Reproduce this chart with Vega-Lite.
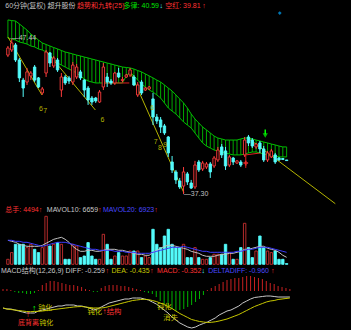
{
"$schema": "https://vega.github.io/schema/vega-lite/v6.json",
"background": "#000000",
"padding": 0,
"spacing": 0,
"bounds": "flush",
"config": {"view": {"stroke": null}, "text": {"font": "Liberation Sans, Noto Sans CJK SC", "fontSize": 7, "baseline": "middle", "align": "left"}},
"datasets": {
"k": [
{"i":0,"o":46.36,"h":46.95,"l":46.23,"c":46.82,"v":5000,"m10":24000,"m20":24000,"bt":48.65,"bb":47.47,"hs":2,"df":-17,"de":-17},
{"i":1,"o":46.69,"h":47.44,"l":46.56,"c":47.15,"v":11700,"m10":23000,"m20":24000,"bt":48.61,"bb":47.41,"hs":2,"df":-18,"de":-18},
{"i":2,"o":47.02,"h":47.15,"l":45.91,"c":46.04,"v":20000,"m10":22000,"m20":23000,"bt":48.58,"bb":47.34,"hs":1,"df":-18,"de":-18.5},
{"i":3,"o":46.04,"h":46.17,"l":44.60,"c":44.87,"v":20000,"m10":20000,"m20":23000,"bt":48.39,"bb":47.21,"hs":-1,"df":-19,"de":-19},
{"i":4,"o":44.73,"h":44.87,"l":43.63,"c":44.21,"v":20000,"m10":19000,"m20":22000,"bt":48.19,"bb":47.15,"hs":-2,"df":-20,"de":-19.5},
{"i":5,"o":44.60,"h":45.52,"l":44.41,"c":45.26,"v":16700,"m10":18000,"m20":22000,"bt":47.99,"bb":47.08,"hs":-2,"df":-21,"de":-20},
{"i":6,"o":45.00,"h":45.32,"l":44.73,"c":45.19,"v":20000,"m10":18000,"m20":21000,"bt":47.73,"bb":46.95,"hs":-3,"df":-22,"de":-20.5},
{"i":7,"o":45.58,"h":45.71,"l":44.60,"c":44.73,"v":15000,"m10":18000,"m20":20000,"bt":47.54,"bb":46.89,"hs":-3,"df":-22,"de":-20.7},
{"i":8,"o":44.87,"h":44.93,"l":44.21,"c":44.28,"v":11700,"m10":18000,"m20":19000,"bt":47.34,"bb":46.76,"hs":-2,"df":-22,"de":-20.5},
{"i":9,"o":43.89,"h":44.28,"l":43.76,"c":44.15,"v":16700,"m10":19000,"m20":18000,"bt":47.15,"bb":46.69,"hs":1,"df":-20,"de":-20.3},
{"i":10,"o":45.19,"h":46.69,"l":44.93,"c":46.56,"v":48000,"m10":21000,"m20":19000,"bt":47.05,"bb":46.56,"hs":6,"df":-19,"de":-20},
{"i":11,"o":46.50,"h":46.56,"l":45.58,"c":45.84,"v":18300,"m10":23000,"m20":20000,"bt":46.95,"bb":46.36,"hs":8,"df":-18,"de":-19.5},
{"i":12,"o":45.65,"h":46.30,"l":45.52,"c":46.17,"v":20000,"m10":25000,"m20":21000,"bt":46.85,"bb":46.10,"hs":10,"df":-17,"de":-19},
{"i":13,"o":46.04,"h":46.17,"l":45.26,"c":45.39,"v":21700,"m10":26000,"m20":22000,"bt":46.76,"bb":45.84,"hs":10,"df":-16,"de":-18.5},
{"i":14,"o":44.08,"h":45.19,"l":43.63,"c":44.93,"v":20000,"m10":27000,"m20":22000,"bt":46.66,"bb":45.71,"hs":9,"df":-15,"de":-18},
{"i":15,"o":44.93,"h":45.06,"l":44.41,"c":44.54,"v":5000,"m10":25000,"m20":22000,"bt":46.56,"bb":45.58,"hs":8,"df":-15,"de":-17.5},
{"i":16,"o":44.87,"h":45.00,"l":44.47,"c":44.67,"v":5000,"m10":22000,"m20":21000,"bt":46.50,"bb":45.45,"hs":7,"df":-14,"de":-17},
{"i":17,"o":44.60,"h":45.91,"l":44.41,"c":45.71,"v":20000,"m10":18000,"m20":20000,"bt":46.43,"bb":45.32,"hs":6,"df":-14,"de":-16.5},
{"i":18,"o":44.93,"h":45.78,"l":44.80,"c":45.58,"v":18300,"m10":15000,"m20":19000,"bt":46.36,"bb":45.19,"hs":6,"df":-14,"de":-16},
{"i":19,"o":45.26,"h":45.39,"l":44.73,"c":44.87,"v":6700,"m10":13000,"m20":18000,"bt":46.30,"bb":45.00,"hs":5,"df":-15,"de":-15.7},
{"i":20,"o":44.73,"h":44.80,"l":43.63,"c":44.08,"v":8300,"m10":13000,"m20":17000,"bt":46.23,"bb":44.80,"hs":4,"df":-15,"de":-15.5},
{"i":21,"o":44.21,"h":44.34,"l":43.11,"c":43.43,"v":21700,"m10":14000,"m20":16000,"bt":46.17,"bb":44.67,"hs":2,"df":-16,"de":-16},
{"i":22,"o":43.56,"h":43.69,"l":43.11,"c":43.30,"v":8300,"m10":14000,"m20":15000,"bt":46.10,"bb":44.60,"hs":1,"df":-17,"de":-16.5},
{"i":23,"o":43.56,"h":43.63,"l":43.24,"c":43.37,"v":5000,"m10":13000,"m20":15000,"bt":46.04,"bb":44.54,"hs":-1,"df":-19,"de":-17},
{"i":24,"o":43.30,"h":44.08,"l":43.24,"c":43.95,"v":5000,"m10":13000,"m20":14000,"bt":45.97,"bb":44.54,"hs":-1,"df":-18,"de":-17},
{"i":25,"o":44.28,"h":45.84,"l":44.08,"c":45.58,"v":30000,"m10":14000,"m20":14000,"bt":45.91,"bb":44.54,"hs":3,"df":-16,"de":-17},
{"i":26,"o":44.93,"h":45.19,"l":44.28,"c":44.60,"v":20000,"m10":15000,"m20":14000,"bt":45.84,"bb":44.54,"hs":5,"df":-14,"de":-16.5},
{"i":27,"o":44.67,"h":44.80,"l":44.41,"c":44.54,"v":5000,"m10":15000,"m20":14000,"bt":45.78,"bb":44.54,"hs":6,"df":-12,"de":-15.5},
{"i":28,"o":44.54,"h":45.26,"l":44.41,"c":45.19,"v":8300,"m10":15000,"m20":13000,"bt":45.71,"bb":44.54,"hs":6,"df":-11,"de":-14.5},
{"i":29,"o":45.19,"h":45.52,"l":44.87,"c":44.93,"v":11700,"m10":14000,"m20":13000,"bt":45.65,"bb":44.54,"hs":6,"df":-10,"de":-13.5},
{"i":30,"o":44.70,"h":44.93,"l":44.60,"c":44.77,"v":8300,"m10":14000,"m20":13000,"bt":45.58,"bb":44.54,"hs":5,"df":-9,"de":-12.5},
{"i":31,"o":44.93,"h":45.13,"l":44.87,"c":45.06,"v":8300,"m10":13000,"m20":12000,"bt":45.55,"bb":45.00,"hs":5,"df":-8,"de":-11.5},
{"i":32,"o":45.06,"h":45.52,"l":44.93,"c":45.39,"v":13300,"m10":12000,"m20":12000,"bt":45.52,"bb":45.26,"hs":4,"df":-8,"de":-10.5},
{"i":33,"o":44.93,"h":45.06,"l":44.34,"c":44.41,"v":13300,"m10":11000,"m20":12000,"bt":45.45,"bb":45.00,"hs":3,"df":-7,"de":-9.5},
{"i":34,"o":43.76,"h":44.60,"l":43.63,"c":44.41,"v":13300,"m10":10000,"m20":11000,"bt":45.35,"bb":44.73,"hs":2,"df":-7,"de":-9},
{"i":35,"o":44.60,"h":44.73,"l":43.76,"c":43.89,"v":6700,"m10":10000,"m20":11000,"bt":45.26,"bb":44.47,"hs":1,"df":-7,"de":-8.5},
{"i":36,"o":44.08,"h":44.28,"l":44.02,"c":44.21,"v":8300,"m10":9000,"m20":11000,"bt":45.13,"bb":44.28,"hs":-1,"df":-8,"de":-8.3},
{"i":37,"o":44.15,"h":44.34,"l":44.08,"c":44.28,"v":6700,"m10":9000,"m20":11000,"bt":45.00,"bb":44.08,"hs":-2,"df":-9,"de":-8.6},
{"i":38,"o":43.50,"h":43.89,"l":41.80,"c":42.32,"v":35000,"m10":12000,"m20":12000,"bt":44.87,"bb":43.95,"hs":-3,"df":-11,"de":-9.5},
{"i":39,"o":42.32,"h":42.52,"l":41.87,"c":42.06,"v":20000,"m10":14000,"m20":13000,"bt":44.73,"bb":43.76,"hs":-6,"df":-13,"de":-10.5},
{"i":40,"o":42.13,"h":42.32,"l":41.28,"c":41.67,"v":16700,"m10":16000,"m20":14000,"bt":44.60,"bb":43.56,"hs":-10,"df":-16,"de":-12},
{"i":41,"o":41.74,"h":41.87,"l":41.15,"c":41.28,"v":28300,"m10":18000,"m20":15000,"bt":44.41,"bb":43.24,"hs":-13,"df":-19,"de":-13.5},
{"i":42,"o":41.02,"h":41.08,"l":39.72,"c":39.98,"v":35000,"m10":19000,"m20":16000,"bt":44.21,"bb":42.91,"hs":-16,"df":-22,"de":-15.5},
{"i":43,"o":39.39,"h":39.78,"l":38.67,"c":38.87,"v":20000,"m10":19000,"m20":17000,"bt":44.02,"bb":42.71,"hs":-18,"df":-26,"de":-17.5},
{"i":44,"o":38.74,"h":38.87,"l":37.96,"c":38.22,"v":16700,"m10":18000,"m20":17000,"bt":43.76,"bb":42.52,"hs":-20,"df":-29,"de":-20},
{"i":45,"o":38.15,"h":38.35,"l":37.63,"c":37.76,"v":16700,"m10":17000,"m20":17000,"bt":43.50,"bb":42.26,"hs":-19,"df":-32,"de":-22.5},
{"i":46,"o":37.82,"h":39.06,"l":37.30,"c":38.74,"v":20000,"m10":16000,"m20":18000,"bt":43.24,"bb":42.00,"hs":-18,"df":-34,"de":-24.5},
{"i":47,"o":38.61,"h":38.74,"l":37.89,"c":38.09,"v":6700,"m10":15000,"m20":17000,"bt":42.91,"bb":41.80,"hs":-16,"df":-36,"de":-26.5},
{"i":48,"o":38.02,"h":38.22,"l":37.63,"c":37.69,"v":6700,"m10":13000,"m20":16000,"bt":42.52,"bb":41.61,"hs":-14,"df":-37,"de":-28.5},
{"i":49,"o":37.76,"h":39.46,"l":37.63,"c":39.19,"v":16700,"m10":12000,"m20":15000,"bt":42.19,"bb":41.28,"hs":-11,"df":-36,"de":-29.5},
{"i":50,"o":39.39,"h":39.52,"l":38.74,"c":38.87,"v":6700,"m10":11000,"m20":14000,"bt":41.93,"bb":40.95,"hs":-8,"df":-34,"de":-30.5},
{"i":51,"o":38.93,"h":39.46,"l":38.80,"c":39.32,"v":5000,"m10":9000,"m20":13000,"bt":41.67,"bb":40.63,"hs":-4,"df":-32.5,"de":-31},
{"i":52,"o":39.06,"h":39.39,"l":38.93,"c":39.26,"v":5000,"m10":8000,"m20":13000,"bt":41.48,"bb":40.43,"hs":1,"df":-31,"de":-31.5},
{"i":53,"o":39.26,"h":39.39,"l":38.35,"c":38.74,"v":6700,"m10":8000,"m20":12000,"bt":41.28,"bb":40.30,"hs":3,"df":-29,"de":-31.3},
{"i":54,"o":39.13,"h":39.78,"l":39.00,"c":39.65,"v":10000,"m10":8000,"m20":12000,"bt":41.08,"bb":40.17,"hs":5,"df":-27,"de":-30.8},
{"i":55,"o":39.52,"h":40.37,"l":39.39,"c":40.17,"v":10000,"m10":9000,"m20":12000,"bt":40.95,"bb":40.11,"hs":7,"df":-24,"de":-30},
{"i":56,"o":40.37,"h":40.56,"l":39.65,"c":39.85,"v":10000,"m10":10000,"m20":12000,"bt":40.89,"bb":40.04,"hs":9,"df":-22,"de":-29},
{"i":57,"o":40.11,"h":40.37,"l":38.87,"c":39.13,"v":20000,"m10":10000,"m20":12000,"bt":40.82,"bb":39.98,"hs":11,"df":-20,"de":-28},
{"i":58,"o":39.19,"h":39.85,"l":39.06,"c":39.72,"v":11700,"m10":11000,"m20":12000,"bt":40.82,"bb":39.91,"hs":12,"df":-19,"de":-26.5},
{"i":59,"o":39.65,"h":39.72,"l":39.19,"c":39.39,"v":5000,"m10":11000,"m20":12000,"bt":40.82,"bb":39.85,"hs":13,"df":-17,"de":-25},
{"i":60,"o":39.32,"h":39.52,"l":39.26,"c":39.46,"v":5000,"m10":12000,"m20":13000,"bt":40.82,"bb":39.85,"hs":13,"df":-15,"de":-23.5},
{"i":61,"o":39.39,"h":39.52,"l":39.06,"c":39.19,"v":16700,"m10":13000,"m20":13000,"bt":40.89,"bb":39.85,"hs":14,"df":-12,"de":-21.5},
{"i":62,"o":39.85,"h":41.02,"l":39.72,"c":40.82,"v":41000,"m10":15000,"m20":14000,"bt":40.95,"bb":39.91,"hs":15,"df":-10,"de":-19.5},
{"i":63,"o":41.02,"h":41.15,"l":40.43,"c":40.63,"v":16700,"m10":15000,"m20":15000,"bt":40.95,"bb":39.98,"hs":15,"df":-8,"de":-17.5},
{"i":64,"o":40.82,"h":40.95,"l":40.30,"c":40.43,"v":6700,"m10":16000,"m20":15000,"bt":40.89,"bb":40.04,"hs":14,"df":-6.5,"de":-15.5},
{"i":65,"o":40.37,"h":40.63,"l":40.24,"c":40.56,"v":13300,"m10":17000,"m20":16000,"bt":40.82,"bb":40.04,"hs":13,"df":-6,"de":-14},
{"i":66,"o":40.63,"h":40.76,"l":39.98,"c":40.24,"v":28300,"m10":18000,"m20":17000,"bt":40.76,"bb":39.98,"hs":12,"df":-5.5,"de":-12.5},
{"i":67,"o":40.24,"h":40.43,"l":39.39,"c":39.52,"v":16700,"m10":18000,"m20":17000,"bt":40.69,"bb":39.91,"hs":10,"df":-5,"de":-11},
{"i":68,"o":39.52,"h":40.11,"l":39.39,"c":39.98,"v":13300,"m10":16000,"m20":17000,"bt":40.63,"bb":39.85,"hs":8,"df":-5,"de":-10},
{"i":69,"o":39.72,"h":40.24,"l":39.65,"c":40.11,"v":11700,"m10":15000,"m20":16000,"bt":40.56,"bb":39.78,"hs":7,"df":-5.5,"de":-9.5},
{"i":70,"o":39.85,"h":39.98,"l":39.26,"c":39.39,"v":13300,"m10":14000,"m20":15000,"bt":40.50,"bb":39.78,"hs":5,"df":-6,"de":-8.5},
{"i":71,"o":39.65,"h":39.72,"l":39.46,"c":39.52,"v":5000,"m10":12000,"m20":14000,"bt":40.43,"bb":39.72,"hs":4,"df":-6,"de":-8},
{"i":72,"o":39.62,"h":39.65,"l":39.52,"c":39.55,"v":5000,"m10":9000,"m20":13000,"bt":40.37,"bb":39.72,"hs":3,"df":-6,"de":-7.5},
{"i":73,"o":39.52,"h":39.52,"l":39.48,"c":39.48,"v":700,"m10":7000,"m20":12000,"bt":40.37,"bb":39.72,"hs":2,"df":-6,"de":-7}
],
"tl": [
{"g":"L1","i":0,"p":47.54},{"g":"L1","i":8.9,"p":43.76},
{"g":"L2","i":10.2,"p":46.56},{"g":"L2","i":22.9,"p":42.78},
{"g":"L3","i":31.8,"p":45.39},{"g":"L3","i":46.1,"p":37.37},
{"g":"L4","i":62.85,"p":40.95},{"g":"L4","i":85.75,"p":36.67}
],
"rl": [
{"g":"R1","n":1,"i":24.7,"p":44.54},{"g":"R1","n":2,"i":31.8,"p":44.54},
{"g":"R2","n":1,"i":62.3,"p":39.00},{"g":"R2","n":2,"i":62.3,"p":39.85},{"g":"R2","n":3,"i":66.2,"p":39.98}
]
},
"vconcat": [
{
"width": 351, "height": 204,
"data": {"name": "k"},
"encoding": {"x": {"field": "i", "type": "quantitative", "scale": {"domain": [-0.763, 88.55], "nice": false, "zero": false}, "axis": null}},
"layer": [
{"data": {"values": [{"g": 46.10}, {"g": 42.91}, {"g": 39.72}]},
 "mark": {"type": "rule", "color": "#7a0000", "strokeDash": [1, 2], "strokeWidth": 1},
 "encoding": {"x": {"datum": -0.763}, "x2": {"datum": 88.55}, "y": {"field": "g", "type": "quantitative", "scale": {"domain": [36.65, 49.95], "nice": false, "zero": false}, "axis": null}}},
{"data": {"values": [{}]}, "mark": {"type": "rule", "color": "#b00000", "strokeWidth": 1},
 "encoding": {"x": {"datum": -0.55}}},
{"data": {"values": [{}]}, "mark": {"type": "rule", "color": "#c00000", "strokeWidth": 1},
 "encoding": {"y": {"datum": 36.68, "scale": {"domain": [36.65, 49.95], "nice": false, "zero": false}, "axis": null}}},
{"mark": {"type": "rule", "color": "#00a800", "strokeWidth": 1},
 "encoding": {"y": {"field": "bb", "type": "quantitative", "scale": {"domain": [36.65, 49.95], "nice": false, "zero": false}, "axis": null}, "y2": {"field": "bt"}}},
{"mark": {"type": "line", "color": "#00c000", "strokeWidth": 1},
 "encoding": {"y": {"field": "bt", "type": "quantitative", "scale": {"domain": [36.65, 49.95], "nice": false, "zero": false}, "axis": null}}},
{"mark": {"type": "line", "color": "#00c000", "strokeWidth": 1},
 "encoding": {"y": {"field": "bb", "type": "quantitative", "scale": {"domain": [36.65, 49.95], "nice": false, "zero": false}, "axis": null}}},
{"data": {"name": "tl"}, "mark": {"type": "line", "color": "#b4b400", "strokeWidth": 1},
 "encoding": {"detail": {"field": "g"}, "y": {"field": "p", "type": "quantitative", "scale": {"domain": [36.65, 49.95], "nice": false, "zero": false}, "axis": null}}},
{"data": {"name": "rl"}, "mark": {"type": "line", "color": "#e02020", "strokeWidth": 1},
 "encoding": {"detail": {"field": "g"}, "order": {"field": "n"}, "y": {"field": "p", "type": "quantitative", "scale": {"domain": [36.65, 49.95], "nice": false, "zero": false}, "axis": null}}},
{"mark": {"type": "rule", "strokeWidth": 1},
 "encoding": {"y": {"field": "l", "type": "quantitative", "scale": {"domain": [36.65, 49.95], "nice": false, "zero": false}, "axis": null}, "y2": {"field": "h"},
 "color": {"condition": {"test": "datum.c >= datum.o", "value": "#ff3c3c"}, "value": "#54fcfc"}}},
{"mark": {"type": "bar", "size": 2.4, "strokeWidth": 0.9},
 "encoding": {"y": {"field": "o", "type": "quantitative", "scale": {"domain": [36.65, 49.95], "nice": false, "zero": false}, "axis": null}, "y2": {"field": "c"},
 "fill": {"condition": {"test": "datum.c >= datum.o", "value": "#000000"}, "value": "#54fcfc"},
 "stroke": {"condition": {"test": "datum.c >= datum.o", "value": "#ff3c3c"}, "value": "#54fcfc"}}},
{"data": {"values": [{"i": 62.3, "p": 39.32}]}, "mark": {"type": "point", "shape": "cross", "filled": true, "size": 22, "color": "#ff3030"},
 "encoding": {"y": {"field": "p", "type": "quantitative", "scale": {"domain": [36.65, 49.95], "nice": false, "zero": false}, "axis": null}}},
{"data": {"values": [{"i": 67.4, "p": 41.5, "p2": 41.2}]}, "mark": {"type": "rule", "color": "#00ff00", "strokeWidth": 1.5},
 "encoding": {"y": {"field": "p", "type": "quantitative", "scale": {"domain": [36.65, 49.95], "nice": false, "zero": false}, "axis": null}, "y2": {"field": "p2"}}},
{"data": {"values": [{"i": 67.4, "p": 41.12}]}, "mark": {"type": "point", "shape": "triangle-down", "filled": true, "size": 28, "color": "#00ff00"},
 "encoding": {"y": {"field": "p", "type": "quantitative", "scale": {"domain": [36.65, 49.95], "nice": false, "zero": false}, "axis": null}}},
{"data": {"values": [{"i": 71.2, "p": 49.10}]}, "mark": {"type": "point", "shape": "diamond", "filled": true, "size": 14, "color": "#00a8ff"},
 "encoding": {"y": {"field": "p", "type": "quantitative", "scale": {"domain": [36.65, 49.95], "nice": false, "zero": false}, "axis": null}}},
{"data": {"values": [
 {"i": 1.0, "p": 47.44, "t": "—47.44", "col": "#c0c0c0", "a": "left"},
 {"i": 46.06, "p": 37.30, "t": "—37.30", "col": "#c0c0c0", "a": "left"},
 {"i": 8.14, "p": 42.84, "t": "6", "col": "#b4b400", "a": "center"},
 {"i": 9.24, "p": 42.71, "t": "7", "col": "#b4b400", "a": "center"},
 {"i": 24.25, "p": 42.13, "t": "6", "col": "#b4b400", "a": "center"},
 {"i": 37.2, "p": 42.91, "t": "6", "col": "#b4b400", "a": "center"},
 {"i": 38.2, "p": 40.69, "t": "7", "col": "#b4b400", "a": "center"},
 {"i": 39.3, "p": 40.33, "t": "8", "col": "#b4b400", "a": "center"},
 {"i": 40.7, "p": 40.50, "t": "9", "col": "#b4b400", "a": "center"},
 {"i": -0.7, "p": 49.56, "t": "60分钟(复权)", "col": "#c0c0c0", "a": "left"},
 {"i": 10.4, "p": 49.56, "t": "超升股份", "col": "#c8c8c8", "a": "left"},
 {"i": 18.1, "p": 49.56, "t": "趋势和九转(25)", "col": "#ff3232", "a": "left"},
 {"i": 30.3, "p": 49.56, "t": "多律: 40.59", "col": "#00e000", "a": "left"},
 {"i": 39.7, "p": 49.56, "t": "↓", "col": "#54fcfc", "a": "left"},
 {"i": 41.2, "p": 49.56, "t": "空红: 39.81", "col": "#ff3232", "a": "left"},
 {"i": 50.9, "p": 49.56, "t": "↑", "col": "#ff3232", "a": "left"}
 ]},
 "mark": {"type": "text"},
 "encoding": {"y": {"field": "p", "type": "quantitative", "scale": {"domain": [36.65, 49.95], "nice": false, "zero": false}, "axis": null},
 "text": {"field": "t"}, "color": {"field": "col", "type": "nominal", "scale": null}, "align": {"field": "a", "type": "nominal", "scale": null}}}
]
},
{
"width": 351, "height": 61,
"data": {"name": "k"},
"encoding": {"x": {"field": "i", "type": "quantitative", "scale": {"domain": [-0.763, 88.55], "nice": false, "zero": false}, "axis": null}},
"layer": [
{"data": {"values": [{"g": 47300}, {"g": 24300}]},
 "mark": {"type": "rule", "color": "#7a0000", "strokeDash": [1, 2], "strokeWidth": 1},
 "encoding": {"x": {"datum": -0.763}, "x2": {"datum": 88.55}, "y": {"field": "g", "type": "quantitative", "scale": {"domain": [-700, 60300], "nice": false, "zero": false}, "axis": null}}},
{"data": {"values": [{}]}, "mark": {"type": "rule", "color": "#b00000", "strokeWidth": 1},
 "encoding": {"x": {"datum": -0.55}}},
{"data": {"values": [{}]}, "mark": {"type": "rule", "color": "#c00000", "strokeWidth": 1},
 "encoding": {"y": {"datum": -450, "scale": {"domain": [-700, 60300], "nice": false, "zero": false}, "axis": null}}},
{"mark": {"type": "bar", "size": 2.4, "strokeWidth": 0.9},
 "encoding": {"y": {"field": "v", "type": "quantitative", "scale": {"domain": [-700, 60300], "nice": false, "zero": false}, "axis": null}, "y2": {"datum": 0},
 "fill": {"condition": {"test": "datum.c >= datum.o", "value": "#000000"}, "value": "#54fcfc"},
 "stroke": {"condition": {"test": "datum.c >= datum.o", "value": "#c83030"}, "value": "#54fcfc"}}},
{"mark": {"type": "line", "color": "#c0c0c0", "strokeWidth": 1},
 "encoding": {"y": {"field": "m10", "type": "quantitative", "scale": {"domain": [-700, 60300], "nice": false, "zero": false}, "axis": null}}},
{"mark": {"type": "line", "color": "#3c3cff", "strokeWidth": 1},
 "encoding": {"y": {"field": "m20", "type": "quantitative", "scale": {"domain": [-700, 60300], "nice": false, "zero": false}, "axis": null}}},
{"data": {"values": [
 {"i": -0.7, "p": 54300, "t": "总手: 4494", "col": "#ff3232"},
 {"i": 8.1, "p": 54300, "t": "↑", "col": "#ff3232"},
 {"i": 10.2, "p": 54300, "t": "MAVOL10: 6659", "col": "#c8c8c8"},
 {"i": 23.6, "p": 54300, "t": "↑", "col": "#ff3232"},
 {"i": 24.9, "p": 54300, "t": "MAVOL20: 6923", "col": "#4848ff"},
 {"i": 38.3, "p": 54300, "t": "↑", "col": "#ff3232"}
 ]},
 "mark": {"type": "text"},
 "encoding": {"y": {"field": "p", "type": "quantitative", "scale": {"domain": [-700, 60300], "nice": false, "zero": false}, "axis": null},
 "text": {"field": "t"}, "color": {"field": "col", "type": "nominal", "scale": null}}}
]
},
{
"width": 351, "height": 65,
"data": {"name": "k"},
"encoding": {"x": {"field": "i", "type": "quantitative", "scale": {"domain": [-0.763, 88.55], "nice": false, "zero": false}, "axis": null}},
"layer": [
{"data": {"values": [{"g": -12}]},
 "mark": {"type": "rule", "color": "#7a0000", "strokeDash": [1, 2], "strokeWidth": 1},
 "encoding": {"x": {"datum": -0.763}, "x2": {"datum": 88.55}, "y": {"field": "g", "type": "quantitative", "scale": {"domain": [-39, 26], "nice": false, "zero": false}, "axis": null}}},
{"data": {"values": [{}]}, "mark": {"type": "rule", "color": "#b00000", "strokeWidth": 1},
 "encoding": {"x": {"datum": -0.55}}},
{"mark": {"type": "rule", "strokeWidth": 1},
 "encoding": {"y": {"field": "hs", "type": "quantitative", "scale": {"domain": [-39, 26], "nice": false, "zero": false}, "axis": null}, "y2": {"datum": 0},
 "color": {"condition": {"test": "datum.hs >= 0", "value": "#c82020"}, "value": "#00b400"}}},
{"mark": {"type": "line", "color": "#c8c8c8", "strokeWidth": 1},
 "encoding": {"y": {"field": "df", "type": "quantitative", "scale": {"domain": [-39, 26], "nice": false, "zero": false}, "axis": null}}},
{"mark": {"type": "line", "color": "#c8c800", "strokeWidth": 1},
 "encoding": {"y": {"field": "de", "type": "quantitative", "scale": {"domain": [-39, 26], "nice": false, "zero": false}, "axis": null}}},
{"data": {"values": [
 {"i": -0.5, "p": 20, "t": "MACD结构(12,26,9) DIFF: -0.259", "col": "#c8c8c8", "fs": 7},
 {"i": 26.1, "p": 20, "t": "↑", "col": "#ff3232", "fs": 7},
 {"i": 27.6, "p": 20, "t": "DEA: -0.435", "col": "#c8c800", "fs": 7},
 {"i": 37.4, "p": 20, "t": "↑", "col": "#ff3232", "fs": 7},
 {"i": 39.2, "p": 20, "t": "MACD: -0.352", "col": "#ff3232", "fs": 7},
 {"i": 50.5, "p": 20, "t": "↓", "col": "#54fcfc", "fs": 7},
 {"i": 52.2, "p": 20, "t": "DELTADIFF: -0.960", "col": "#4848ff", "fs": 7},
 {"i": 68.2, "p": 20, "t": "↑", "col": "#ff3232", "fs": 7},
 {"i": 3.8, "p": -32, "t": "底背离", "col": "#ff3232", "fs": 7},
 {"i": 9.2, "p": -32, "t": "钝化", "col": "#c8c800", "fs": 7},
 {"i": 5.8, "p": -23.5, "t": "↑", "col": "#ff3232", "fs": 8},
 {"i": 7.4, "p": -17, "t": "↑", "col": "#00ff00", "fs": 9},
 {"i": 9.0, "p": -17, "t": "钝化", "col": "#c8c800", "fs": 7},
 {"i": 21.5, "p": -21, "t": "钝化", "col": "#c8c800", "fs": 7.3},
 {"i": 25.3, "p": -21, "t": "↑", "col": "#ff3232", "fs": 8},
 {"i": 26.4, "p": -21, "t": "结构", "col": "#ff3232", "fs": 7.3},
 {"i": 39.2, "p": -16, "t": "钝化", "col": "#c8c800", "fs": 7.3},
 {"i": 40.8, "p": -27, "t": "消失", "col": "#c8c800", "fs": 7.3}
 ]},
 "mark": {"type": "text"},
 "encoding": {"y": {"field": "p", "type": "quantitative", "scale": {"domain": [-39, 26], "nice": false, "zero": false}, "axis": null},
 "text": {"field": "t"}, "color": {"field": "col", "type": "nominal", "scale": null}, "size": {"field": "fs", "type": "quantitative", "scale": null}}}
]
}
]
}
